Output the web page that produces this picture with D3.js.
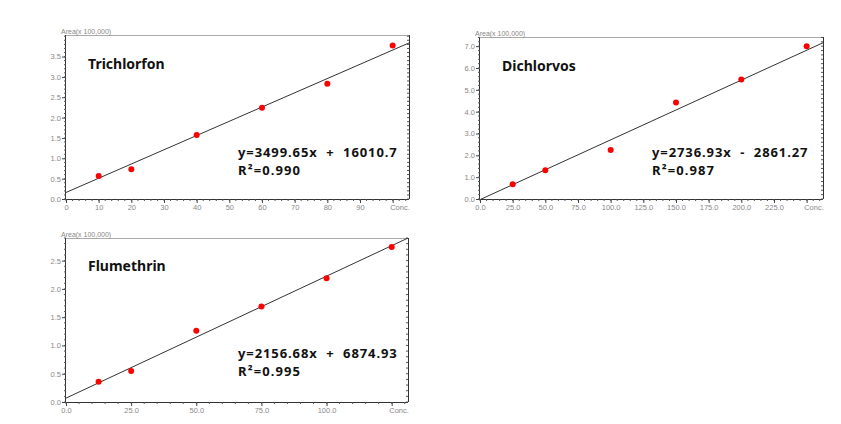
<!DOCTYPE html>
<html>
<head>
<meta charset="utf-8">
<script src="https://cdn.jsdelivr.net/npm/d3@7"></script>
<style>
  html, body { margin: 0; padding: 0; background: #fff; }
  svg { display: block; }
</style>
</head>
<body>
<svg id="chart" width="841" height="424"></svg>
<script>
// ---- data ----
const compounds = ["Trichlorfon", "Dichlorvos", "Flumethrin"];

const trichlorfonConc = [10, 20, 40, 60, 80, 100];
const trichlorfonArea = [0.565, 0.73, 1.57, 2.24, 2.83, 3.77];
const dichlorvosConc = [25, 50, 100, 150, 200, 250];
const dichlorvosArea = [0.68, 1.32, 2.24, 4.42, 5.47, 7.0];
const flumethrinConc = [12.5, 25, 50, 75, 100, 125];
const flumethrinArea = [0.36, 0.55, 1.26, 1.69, 2.19, 2.74];

const slopes = [3499.65, 2736.93, 2156.68];
const intercepts = [16010.7, -2861.27, 6874.93];
const equations = ["y=3499.65x  +  16010.7", "y=2736.93x  -  2861.27", "y=2156.68x  +  6874.93"];
const r2Labels = ["R\u00B2=0.990", "R\u00B2=0.987", "R\u00B2=0.995"];

const trichlorfonXTicks = ["0", "10", "20", "30", "40", "50", "60", "70", "80", "90", "Conc."];
const dichlorvosXTicks = ["0.0", "25.0", "50.0", "75.0", "100.0", "125.0", "150.0", "175.0", "200.0", "225.0", "Conc."];
const flumethrinXTicks = ["0.0", "25.0", "50.0", "75.0", "100.0", "Conc."];
const trichlorfonYTicks = ["0.0", "0.5", "1.0", "1.5", "2.0", "2.5", "3.0", "3.5"];
const dichlorvosYTicks = ["0.0", "1.0", "2.0", "3.0", "4.0", "5.0", "6.0", "7.0"];
const flumethrinYTicks = ["0.0", "0.5", "1.0", "1.5", "2.0", "2.5"];

const yAxisTitle = "Area(x 100,000)";
const areaUnit = 100000;

// ---- panel layout (positions/styles only) ----
const panels = [
  { name: compounds[0], conc: trichlorfonConc, area: trichlorfonArea, xt: trichlorfonXTicks, yt: trichlorfonYTicks,
    xStep: 10, yStep: 0.5, xMinor: 2, yMinor: 0.1, xMax: 105, yMax: 4.03,
    box: { l: 66, t: 35, r: 409, b: 199 }, title: [88, 69], eq: [238, 157], r2: [238, 175] },
  { name: compounds[1], conc: dichlorvosConc, area: dichlorvosArea, xt: dichlorvosXTicks, yt: dichlorvosYTicks,
    xStep: 25, yStep: 1, xMinor: 5, yMinor: 0.2, xMax: 262.5, yMax: 7.42,
    box: { l: 480, t: 37, r: 823, b: 199 }, title: [502, 70.5], eq: [652, 157], r2: [652, 175] },
  { name: compounds[2], conc: flumethrinConc, area: flumethrinArea, xt: flumethrinXTicks, yt: flumethrinYTicks,
    xStep: 25, yStep: 0.5, xMinor: 5, yMinor: 0.1, xMax: 131.25, yMax: 2.9,
    box: { l: 66, t: 238, r: 408, b: 402 }, title: [88, 270.5], eq: [238, 357.5], r2: [238, 375.5] }
];

const svg = d3.select("#chart");
svg.append("rect").attr("width", 841).attr("height", 424).attr("fill", "#fff");

const tickFont = "'Liberation Sans', 'DejaVu Sans', sans-serif";
const labelFont = "'Noto Sans', 'Open Sans', sans-serif";

panels.forEach((p, i) => {
  const g = svg.append("g");
  const x = d3.scaleLinear().domain([0, p.xMax]).range([p.box.l, p.box.r]);
  const y = d3.scaleLinear().domain([0, p.yMax]).range([p.box.b, p.box.t]);

  const clipId = "clip" + i;
  svg.append("clipPath").attr("id", clipId).append("rect")
    .attr("x", p.box.l).attr("y", p.box.t)
    .attr("width", p.box.r - p.box.l).attr("height", p.box.b - p.box.t);

  // top border (light gray)
  g.append("line").attr("x1", p.box.l).attr("x2", p.box.r).attr("y1", p.box.t + 0.5).attr("y2", p.box.t + 0.5)
    .attr("stroke", "#aaa").attr("stroke-width", 1);

  const xMajor = p.xt.map((_, k) => k * p.xStep);
  const yMajor = p.yt.map((_, k) => k * p.yStep);
  const xMinorVals = d3.range(0, p.xMax + 1e-9, p.xMinor);
  const yMinorVals = d3.range(0, p.yMax + 1e-9, p.yMinor);

  // bottom axis
  const xAxis = d3.axisBottom(x).tickValues(xMajor).tickSize(4).tickPadding(2)
    .tickFormat((d, k) => p.xt[k]);
  const xg = g.append("g").attr("transform", `translate(0,${p.box.b})`).call(xAxis);
  xg.select(".domain").attr("d", `M${p.box.l},0.5H${p.box.r}`).attr("stroke", "#333");
  xg.selectAll(".tick line").attr("stroke", "#444");
  xg.selectAll(".tick text").attr("fill", "#888").attr("font-size", 7.5)
    .attr("font-family", tickFont);
  xg.selectAll(".tick").filter((d, k) => k === p.xt.length - 1).select("text")
    .attr("text-anchor", "start").attr("dx", -3);
  g.append("g").selectAll("line").data(xMinorVals).join("line")
    .attr("x1", d => x(d)).attr("x2", d => x(d))
    .attr("y1", p.box.b).attr("y2", p.box.b + 2)
    .attr("stroke", "#555").attr("stroke-width", 1);

  // left axis
  const yAxis = d3.axisLeft(y).tickValues(yMajor).tickSize(4).tickPadding(1)
    .tickFormat((d, k) => p.yt[k]);
  const yg = g.append("g").attr("transform", `translate(${p.box.l},0)`).call(yAxis);
  yg.select(".domain").attr("d", `M-0.5,${p.box.b}V${p.box.t}`).attr("stroke", "#333");
  yg.selectAll(".tick line").attr("stroke", "#444");
  yg.selectAll(".tick text").attr("fill", "#888").attr("font-size", 7.5)
    .attr("font-family", tickFont);
  g.append("g").selectAll("line").data(yMinorVals).join("line")
    .attr("x1", p.box.l - 2).attr("x2", p.box.l)
    .attr("y1", d => y(d)).attr("y2", d => y(d))
    .attr("stroke", "#555").attr("stroke-width", 1);

  // right border with inward ticks
  g.append("line").attr("x1", p.box.r + 0.5).attr("x2", p.box.r + 0.5).attr("y1", p.box.t).attr("y2", p.box.b)
    .attr("stroke", "#333").attr("stroke-width", 1);
  g.append("g").selectAll("line").data(yMinorVals).join("line")
    .attr("x1", p.box.r - 2).attr("x2", p.box.r)
    .attr("y1", d => y(d)).attr("y2", d => y(d))
    .attr("stroke", "#555").attr("stroke-width", 1);

  // y-axis title
  g.append("text").attr("x", p.box.l - 5).attr("y", p.box.t - 1)
    .attr("font-size", 7).attr("fill", "#888")
    .attr("font-family", tickFont)
    .text(yAxisTitle);

  // regression line from the fitted equation
  const line = d3.line().x(d => x(d)).y(d => y((slopes[i] * d + intercepts[i]) / areaUnit));
  g.append("path").datum([0, p.xMax]).attr("d", line)
    .attr("clip-path", `url(#${clipId})`)
    .attr("fill", "none").attr("stroke", "#333").attr("stroke-width", 1);

  // points
  g.append("g").selectAll("circle").data(p.conc).join("circle")
    .attr("cx", d => x(d)).attr("cy", (d, k) => y(p.area[k]))
    .attr("r", 3).attr("fill", "#ff0000");

  // labels
  g.append("text").attr("x", p.title[0]).attr("y", p.title[1])
    .attr("font-family", labelFont).attr("font-weight", "bold").attr("font-size", 14)
    .attr("fill", "#111").text(p.name);
  g.append("text").attr("x", p.eq[0]).attr("y", p.eq[1])
    .attr("font-family", labelFont).attr("font-weight", "bold").attr("font-size", 13)
    .attr("letter-spacing", 0.9).style("white-space", "pre")
    .attr("fill", "#111").text(equations[i]);
  g.append("text").attr("x", p.r2[0]).attr("y", p.r2[1])
    .attr("font-family", labelFont).attr("font-weight", "bold").attr("font-size", 13)
    .attr("letter-spacing", 1.1)
    .attr("fill", "#111").text(r2Labels[i]);
});
</script>
</body>
</html>
